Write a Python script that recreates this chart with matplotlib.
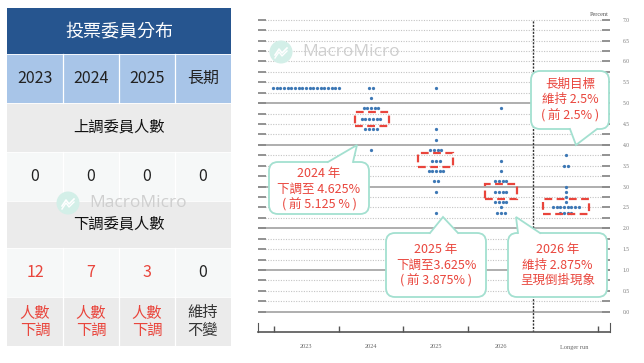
import numpy as np
import matplotlib as mpl
import matplotlib.pyplot as plt
from matplotlib.patches import FancyBboxPatch, Rectangle, Polygon, Circle

mpl.rcParams['font.family'] = ['Noto Sans CJK TC', 'DejaVu Sans']

W, H = 644, 363
RED = '#e9453c'
DOT = '#3d78b5'
TEAL = '#a3e0d0'
SERIF = 'Liberation Serif'

# --- dot plot data (rate midpoints, number of participants) ---
cols = ['2023', '2024', '2025', '2026', 'Longer run']
rates_2023 = [5.375]
counts_2023 = [19]
rates_2024 = [5.375, 5.125, 4.875, 4.625, 4.375, 3.875]
counts_2024 = [2, 1, 5, 6, 4, 1]
rates_2025 = [5.375, 4.375, 4.125, 3.875, 3.625, 3.375, 3.125, 2.875, 2.375]
counts_2025 = [1, 1, 1, 4, 3, 5, 2, 1, 1]
rates_2026 = [4.875, 3.625, 3.375, 3.125, 2.875, 2.625, 2.5, 2.375]
counts_2026 = [1, 1, 1, 4, 4, 4, 1, 3]
rates_lr = [3.75, 3.5, 3.0, 2.875, 2.75, 2.625, 2.5, 2.375]
counts_lr = [1, 2, 1, 1, 1, 1, 8, 4]

# --- table data ---
table_title = '投票委員分布'
table_cols = ['2023', '2024', '2025', '長期']
raise_label = '上調委員人數'
raise_counts = [0, 0, 0, 0]
cut_label = '下調委員人數'
cut_counts = [12, 7, 3, 0]
cut_notes = ['人數\n下調', '人數\n下調', '人數\n下調', '維持\n不變']

# --- callout texts ---
note_2024 = ['2024 年', '下調至 4.625%', '( 前 5.125 % )']
note_2025 = ['2025 年', '下調至3.625%', '( 前 3.875% )']
note_2026 = ['2026 年', '維持 2.875%', '呈現倒掛現象']
note_lr = ['長期目標', '維持 2.5%', '( 前 2.5% )']

fig = plt.figure(figsize=(W / 100, H / 100), dpi=100)
fig.patch.set_facecolor('white')

# ---------------- dot plot ----------------
ax = fig.add_axes([258 / W, 1 - 332 / H, 352 / W, 317 / H])
ax.set_xlim(-0.74, 4.68)
ax.set_ylim(-0.487, 7.115)

for v in np.arange(0, 7.01, 0.25):
    if v <= 5 and v == int(v):
        ax.axhline(v, color='#a8a8a8', lw=1.3, zorder=1)
    else:
        ax.axhline(v, xmin=0.02, xmax=0.98, color='#c4c4c4', lw=0.8,
                   ls=(0, (1, 1.3)), zorder=1)

ax.vlines(3.5, -0.487, 7.0, color='#333333', lw=1.0, ls=(0, (1.5, 1)), zorder=2)

series = [(rates_2023, counts_2023), (rates_2024, counts_2024),
          (rates_2025, counts_2025), (rates_2026, counts_2026),
          (rates_lr, counts_lr)]
step = 0.0565
for i, (rates, counts) in enumerate(series):
    for r, n in zip(rates, counts):
        xs = i + (np.arange(n) - (n - 1) / 2) * step
        ax.scatter(xs, np.full(n, r), s=5.5, color=DOT, linewidths=0, zorder=3)

# red dashed boxes around the medians
for (x0, x1, y0, y1) in [(0.75, 1.28, 4.45, 4.79), (1.72, 2.26, 3.47, 3.81),
                         (2.75, 3.25, 2.70, 3.06), (3.65, 4.35, 2.34, 2.70)]:
    ax.add_patch(Rectangle((x0, y0), x1 - x0, y1 - y0, fill=False, ec=RED,
                           lw=1.6, ls=(0, (3.5, 2)), zorder=4))

ax.set_yticks(np.arange(0, 7.01, 0.5))
ax.set_yticklabels([f'{v:.1f}' for v in np.arange(0, 7.01, 0.5)])
ax.set_yticks(np.arange(0.25, 7.0, 0.5), minor=True)
ax.tick_params(axis='y', which='both', direction='in', left=True, right=True,
               length=5.5, width=1.3, color='#8a8a8a', labelleft=False,
               labelright=True, labelsize=4, labelcolor='#777777', pad=9)
for t in ax.get_yticklabels():
    t.set_fontfamily(SERIF)

ax.set_xticks([-0.5, 0.5, 1.5, 2.5, 4.5])
ax.set_xticklabels([])
ax.set_xticks([0, 1, 2, 3, 4.13], minor=True)
ax.set_xticklabels(cols, minor=True)
ax.tick_params(axis='x', which='major', direction='in', length=4, width=1,
               color='#555555')
ax.tick_params(axis='x', which='minor', length=0, pad=9, labelsize=4.5,
               labelcolor='#666666')
for t in ax.get_xticklabels(minor=True):
    t.set_fontfamily(SERIF)

ax.spines['top'].set_visible(False)
for s in ['left', 'right']:
    ax.spines[s].set_bounds(-0.487, -0.27)
    ax.spines[s].set_color('#555555')
ax.spines['bottom'].set_color('#555555')
ax.spines['bottom'].set_linewidth(1.2)
ax.set_facecolor('none')

# ---------------- overlay (pixel coords) ----------------
ov = fig.add_axes([0, 0, 1, 1])
ov.set_xlim(0, W)
ov.set_ylim(H, 0)
ov.axis('off')
ov.set_zorder(5)
ov.patch.set_visible(False)

ov.text(609, 14.5, 'Percent', ha='right', va='center', fontsize=4.5,
        color='#555555', family=SERIF)


def watermark(cx, cy):
    ov.add_patch(Circle((cx, cy), 11.5, fc='#d3efe8', ec='none', zorder=1))
    ov.plot([cx - 6, cx - 2, cx + 1, cx + 6], [cy + 3, cy - 3, cy + 1, cy - 4],
            color='white', lw=1.2, zorder=2)
    ov.plot([cx - 6, cx - 2, cx + 1, cx + 6], [cy + 6, cy, cy + 4, cy - 1],
            color='white', lw=1.0, zorder=2)
    ov.text(cx + 21, cy, 'MacroMicro', ha='left', va='center', fontsize=12.5,
            color='#cfcfcf', family='Open Sans', zorder=2)


def callout(x0, y0, x1, y1, bx0, bx1, by, tip, lines, cy_text):
    ov.add_patch(FancyBboxPatch((x0, y0), x1 - x0, y1 - y0,
                                boxstyle='round,pad=0,rounding_size=9',
                                fc='white', ec=TEAL, lw=1.3, zorder=6))
    d = 2.5 if by == y0 else -2.5
    ov.add_patch(Polygon([(bx0 + 0.6, by + d), (bx0, by), tip, (bx1, by),
                          (bx1 - 0.6, by + d)], closed=True, fc='white',
                         ec='none', zorder=7))
    ov.plot([bx0, tip[0], bx1], [by, tip[1], by], color=TEAL, lw=1.3,
            zorder=8, solid_joinstyle='miter')
    cx = (x0 + x1) / 2
    for k, s in enumerate(lines):
        ov.text(cx, cy_text + (k - 1) * 15.5, s, ha='center', va='center',
                color=RED, fontsize=9, zorder=9)


callout(269, 162, 369, 214, 328, 353, 162, (357, 145), note_2024, 189)
callout(386, 233, 486, 297, 430, 458, 233, (443, 217), note_2025, 265)
callout(508, 233, 607, 297, 518, 540, 233, (516, 217), note_2026, 265)
callout(531, 71, 609, 129, 570, 597, 129, (576, 145), note_lr, 100)

# ---------------- left table ----------------
tx = [7, 63, 119, 175, 231]
ty = [8, 54, 103, 152, 201, 248, 297, 346]
fills = ['#26558f', '#a8c5e8', '#ebebeb', '#f6f8f8', '#ebebeb', '#f6f8f8', '#ebebeb']
for k, fc in enumerate(fills):
    ov.add_patch(Rectangle((tx[0], ty[k]), tx[-1] - tx[0], ty[k + 1] - ty[k],
                           fc=fc, ec='none', zorder=0.5))
    if k in (1, 3, 5, 6):
        for xv in tx[1:-1]:
            ov.plot([xv, xv], [ty[k], ty[k + 1]], color='white', lw=0.9, zorder=0.6)
for yv in ty[1:-1]:
    ov.plot([tx[0], tx[-1]], [yv, yv], color='white', lw=0.6, zorder=0.6)

cxs = [(tx[j] + tx[j + 1]) / 2 for j in range(4)]
mid = lambda k: (ty[k] + ty[k + 1]) / 2
ov.text(119, mid(0), table_title, ha='center', va='center', color='white',
        fontsize=13, zorder=3)
for j, s in enumerate(table_cols):
    ov.text(cxs[j], mid(1), s, ha='center', va='center', color='#222222',
            fontsize=11.5, zorder=3)
ov.text(119, mid(2), raise_label, ha='center', va='center', color='#111111',
        fontsize=11, zorder=3)
for j, v in enumerate(raise_counts):
    ov.text(cxs[j], mid(3), str(v), ha='center', va='center',
            color=RED if v > 0 else '#222222', fontsize=11.5, zorder=3)
ov.text(119, mid(4), cut_label, ha='center', va='center', color='#111111',
        fontsize=11, zorder=3)
for j, v in enumerate(cut_counts):
    ov.text(cxs[j], mid(5), str(v), ha='center', va='center',
            color=RED if v > 0 else '#222222', fontsize=11.5, zorder=3)
for j, s in enumerate(cut_notes):
    ov.text(cxs[j], mid(6), s, ha='center', va='center', linespacing=1.05,
            color=RED if cut_counts[j] > 0 else '#333333', fontsize=11, zorder=3)

watermark(68, 203)
watermark(281, 52)

plt.savefig('out.png', dpi=100)
